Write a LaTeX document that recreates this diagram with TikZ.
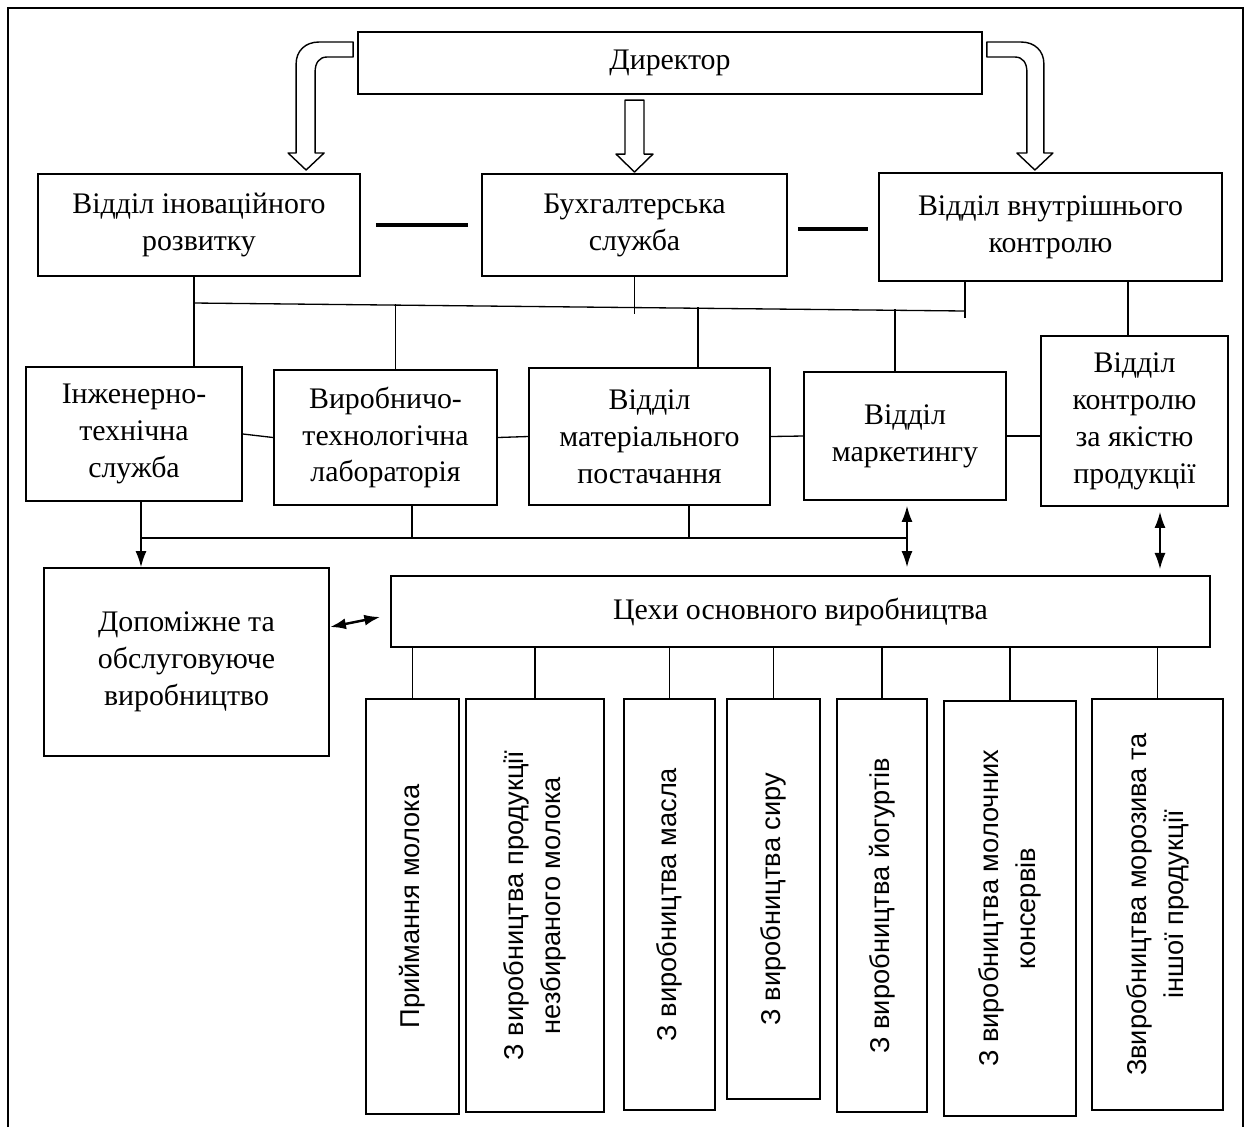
\documentclass[tikz,border=0pt]{standalone}
\usepackage{fontspec}
\usepackage{graphicx}
\setmainfont{Liberation Serif}
\newfontfamily\vertfont{Liberation Sans}
\usetikzlibrary{arrows.meta}

\tikzset{
  box/.style={draw, line width=1.1pt, inner sep=0pt, align=center, font=\fontsize{17}{21}\selectfont},
  vbox/.style={draw, line width=1.1pt, inner sep=0pt, font=\vertfont\fontsize{15.5}{21}\selectfont},
  link/.style={line width=0.75pt},
  bar/.style={line width=2.5pt},
  hollow/.style={line width=0.8pt, line join=round},
  arr/.style={link, -{Latex[length=0.32cm,width=0.22cm]}},
  darr/.style={link, {Latex[length=0.32cm,width=0.22cm]}-{Latex[length=0.32cm,width=0.22cm]}},
}
\newcommand{\vtext}[1]{\rotatebox{90}{\begin{tabular}{@{}c@{}}#1\end{tabular}}}

\begin{document}
\begin{tikzpicture}[x=0.02cm, y=-0.02cm]
\useasboundingbox (0,0) rectangle (1250,1127);

%% Frame
\draw[line width=0.9pt] (8,1127) -- (8,8) -- (1243,8) -- (1243,1127);

%% Top levels
\node[box, minimum width=12.48cm, minimum height=1.24cm] (dir) at (670,63) {Директор};
\node[box, minimum width=6.44cm, minimum height=2.04cm] (inov) at (199,225) {Відділ іноваційного\\розвитку};
\node[box, minimum width=6.10cm, minimum height=2.04cm] (buh) at (634.5,225) {Бухгалтерська\\служба};
\node[box, minimum width=6.86cm, minimum height=2.16cm] (vnutr) at (1050.5,227) {Відділ внутрішнього\\контролю};

%% Departments
\node[box, minimum width=4.32cm, minimum height=2.68cm] (inzh) at (134,434) {Інженерно-\\технічна\\служба};
\node[box, minimum width=4.46cm, minimum height=2.70cm] (vyrob) at (385.5,437.5) {Виробничо-\\технологічна\\лабораторія};
\node[box, minimum width=4.82cm, minimum height=2.74cm] (mater) at (649.5,436.5) {Відділ\\матеріального\\постачання};
\node[box, minimum width=4.04cm, minimum height=2.56cm] (market) at (905,436) {Відділ\\маркетингу};
\node[box, minimum width=3.74cm, minimum height=3.40cm] (yakist) at (1134.5,421) {Відділ\\контролю\\за якістю\\продукції};

%% Production
\node[box, minimum width=5.70cm, minimum height=3.76cm] (dopom) at (186.5,662) {Допоміжне та\\обслуговуюче\\виробництво};
\node[box, minimum width=16.38cm, minimum height=1.42cm] (tsekhy) at (800.5,611.5) {Цехи основного виробництва};

%% Shops
\node[vbox, minimum width=1.86cm, minimum height=8.30cm] (c1) at (412.5,906.5) {\vtext{Приймання молока}};
\node[vbox, minimum width=2.76cm, minimum height=8.26cm] (c2) at (535,905.5) {\vtext{З виробництва продукції\\незбираного молока}};
\node[vbox, minimum width=1.82cm, minimum height=8.22cm] (c3) at (669.5,904.5) {\vtext{З виробництва масла}};
\node[vbox, minimum width=1.86cm, minimum height=8.00cm] (c4) at (773.5,899) {\vtext{З виробництва сиру}};
\node[vbox, minimum width=1.80cm, minimum height=8.26cm] (c5) at (882,905.5) {\vtext{З виробництва йогуртів}};
\node[vbox, minimum width=2.64cm, minimum height=8.30cm] (c6) at (1010,908.5) {\vtext{З виробництва молочних\\консервів}};
\node[vbox, minimum width=2.62cm, minimum height=8.22cm] (c7) at (1157.5,904.5) {\vtext{Звиробництва морозива та\\іншої продукції}};

%% Hollow arrows from the director
\draw[hollow, shift={(dir.west)}] (-4,-21) -- (-38,-21) .. controls (-52,-21) and (-61,-12) .. (-61,1) -- (-61,90) -- (-69,90) -- (-51,107) -- (-33,90) -- (-42,90) -- (-42,9) .. controls (-42,0) and (-38,-6) .. (-30,-6) -- (-4,-6) -- cycle;
\draw[hollow, shift={(dir.east)}] (4,-21) -- (38,-21) .. controls (52,-21) and (61,-12) .. (61,1) -- (61,90) -- (70,90) -- (52,107) -- (34,90) -- (44,90) -- (44,9) .. controls (44,0) and (40,-6) .. (32,-6) -- (4,-6) -- cycle;
\draw[hollow, shift={(buh.north)}] (-9.5,-73) -- (9.5,-73) -- (9.5,-19) -- (18.5,-19) -- (0,-1) -- (-18.5,-19) -- (-9.5,-19) -- cycle;

%% Links between top boxes
\draw[bar, shorten <=0.3cm, shorten >=0.26cm] (inov.east) -- (buh.west);
\draw[bar, shorten <=0.2cm, shorten >=0.2cm] ([yshift=-0.08cm]buh.east) -- ([yshift=-0.08cm]buh.east -| vnutr.west);

%% Upper bus
\coordinate (busL) at (194,303);
\coordinate (busR) at (965,311);
\draw[link] (busL) -- (busR);
\draw[link] (inov.south -| busL) -- (inzh.north -| busL);
\draw[link] (buh.south) -- ++(0,37);
\draw[link] (vnutr.south -| busR) -- ++(0,36);
\draw[link] ([xshift=0.2cm]vyrob.north) -- ++(0,-65);
\draw[link] ([xshift=0.97cm]mater.north) -- ++(0,-60);
\draw[link] ([xshift=-0.2cm]market.north) -- ++(0,-62);
\draw[link] ([xshift=-0.13cm]yakist.north) -- ++(0,-55);

%% Links between departments
\draw[link] (inzh.east) -- (vyrob.west);
\draw[link] (vyrob.east) -- (mater.west);
\draw[link] (mater.east) -- (market.west);
\draw[link] (market.east) -- (market.east -| yakist.west);

%% Lower bus
\coordinate (bus2L) at (141,538);
\coordinate (bus2R) at (907,538);
\draw[link] (bus2L) -- (bus2R);
\draw[arr] (inzh.south -| bus2L) -- (dopom.north -| bus2L);
\draw[link] ([xshift=0.53cm]vyrob.south) -- ++(0,33);
\draw[link] ([xshift=0.79cm]mater.south) -- ++(0,33);
\draw[darr, shorten <=0.1cm, shorten >=0.16cm] (market.south -| bus2R) -- (tsekhy.north -| bus2R);
\draw[darr, shorten <=0.1cm, shorten >=0.16cm] ([xshift=0.51cm]yakist.south) -- ++(0,70);
\draw[darr, line width=1.4pt, shorten >=0.2cm] ([yshift=0.7cm]dopom.east) -- ([yshift=-0.07cm]tsekhy.west);

%% Shops to main production
\foreach \n in {c1,c2,c3,c4,c5,c6,c7}
  \draw[link] (\n.north) -- (\n.north |- tsekhy.south);

\end{tikzpicture}
\end{document}
